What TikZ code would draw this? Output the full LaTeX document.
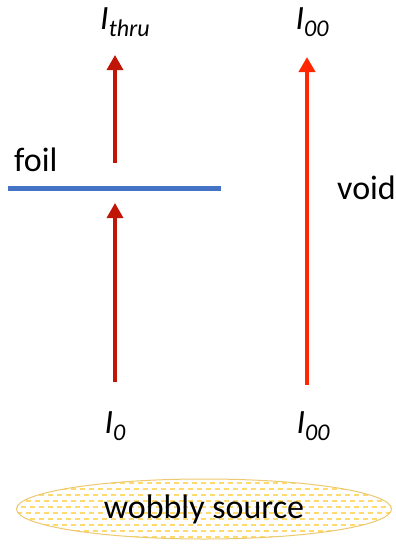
\documentclass[tikz,border=0pt]{standalone}
\usepackage{fontspec}
\setmainfont{Carlito}
\usetikzlibrary{arrows.meta,shapes.geometric}
\definecolor{darkarrow}{RGB}{192,22,8}
\definecolor{brightarrow}{RGB}{255,38,0}
\definecolor{foilblue}{RGB}{68,114,196}
\definecolor{dashyellow}{RGB}{255,218,110}
\definecolor{rimyellow}{RGB}{236,200,110}
\newcommand{\lbl}[2]{\itshape #1\raisebox{-7pt}{\fontsize{24}{24}\selectfont #2}}
\begin{document}
\begin{tikzpicture}[x=1pt,y=-1pt,
  txt/.style={inner sep=0pt,font=\fontsize{34}{38}\selectfont},
  beam/.style={line width=3.2pt,-{Triangle[width=16pt,length=15pt]}},
  foilline/.style={foilblue,line width=5pt},
]
\useasboundingbox (0,0) rectangle (396,546);
% coordinates
\coordinate (lt) at (115,55);
\coordinate (lm) at (115,163);
\coordinate (lb) at (115,382);
\coordinate (lf) at (115,203);
\coordinate (rt) at (307,57);
\coordinate (rb) at (307,385);
\coordinate (fa) at (8,188);
\coordinate (fb) at (221,188);
% foil
\draw[foilline] (fa) -- (fb);
% arrows
\draw[beam,darkarrow] (lm) -- (lt);
\draw[beam,darkarrow] (lb) -- (lf);
\draw[beam,brightarrow,line width=4pt] (rb) -- (rt);
% labels
\node[txt] (ithru) at (125,22) {\lbl{I}{thru}};
\node[txt] (i00t) at (312,22) {\lbl{I}{00}};
\node[txt] (i0) at (115,426) {\lbl{I}{0}};
\node[txt] (i00b) at (313,426) {\lbl{I}{00}};
\node[txt,anchor=west] (foil) at (14,160) {foil};
\node[txt,anchor=west] (void) at (337,188) {void};
% source
\node[ellipse,draw=rimyellow,line width=1pt,minimum width=375pt,minimum height=60pt,inner sep=0pt,
  path picture={
    \foreach \k [evaluate=\k as \ph using {mod(\k,2)*4.5}] in {0,...,11} {
      \draw[dashyellow,line width=1.1pt,dash pattern=on 5pt off 4pt,dash phase=\ph pt]
        ([yshift=\k*6pt+2pt]path picture bounding box.south west) --
        ([yshift=\k*6pt+2pt]path picture bounding box.south east);
    }
  }] (src) at (204,509) {};
\node[txt] (srctext) at (src.center) {wobbly source};
\end{tikzpicture}
\end{document}
